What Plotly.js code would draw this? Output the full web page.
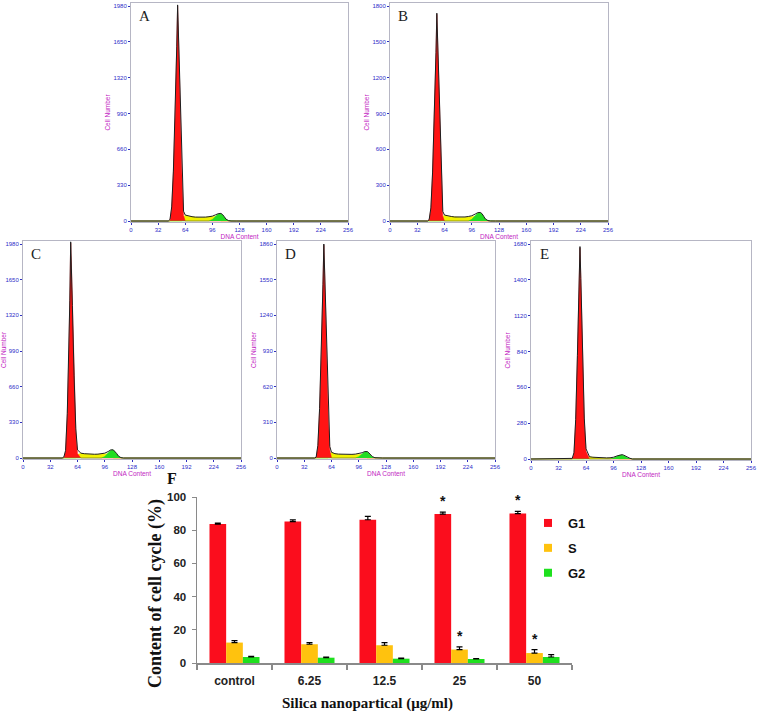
<!DOCTYPE html>
<html><head><meta charset="utf-8">
<script src="https://cdn.plot.ly/plotly-3.0.1.min.js"></script>
<style>html,body{margin:0;padding:0;background:#fff}#chart{width:760px;height:716px}</style>
</head><body><div id="chart"></div>
<script>
// ---------- Flow cytometry histograms (A-E) ----------
const dnaChannel = [0,40,44,46,48,50,52,54,55,56,57,58,60,62,64,68,72,76,80,84,88,92,96,100,103,106,108,110,112,115,118,124,256];
const dnaTicks = [0,32,64,96,128,160,192,224,256];

const aTotal = [0,0,0,15,130,460,960,1610,1990,1710,1360,1010,470,90,55,45,40,36,34,34,36,40,45,58,68,70,60,40,18,4,0,0,0];
const aG1    = [0,0,0,0,120,450,950,1600,1980,1700,1350,1000,450,50,0,0,0,0,0,0,0,0,0,0,0,0,0,0,0,0,0,0,0];
const aS     = [0,0,0,0,0,0,0,0,0,0,0,0,0,45,52,43,38,34,32,32,34,36,42,45,30,0,0,0,0,0,0,0,0];
const aG2    = [0,0,0,0,0,0,0,0,0,0,0,0,0,0,0,0,0,0,0,0,0,0,15,50,66,68,58,38,16,2,0,0,0];
const aYTicks = [0,330,660,990,1320,1650,1980];

const bTotal = [0,0,0,12,110,410,860,1410,1740,1510,1190,880,395,80,50,42,38,34,32,32,34,38,44,58,70,72,62,40,17,4,0,0,0];
const bG1    = [0,0,0,8,100,400,850,1400,1730,1500,1180,870,380,40,0,0,0,0,0,0,0,0,0,0,0,0,0,0,0,0,0,0,0];
const bS     = [0,0,0,0,0,0,0,0,0,0,0,0,0,40,48,40,36,32,30,30,32,36,42,40,28,0,0,0,0,0,0,0,0];
const bG2    = [0,0,0,0,0,0,0,0,0,0,0,0,0,0,0,0,0,0,0,0,0,0,14,50,68,70,60,38,15,2,0,0,0];
const bYTicks = [0,300,600,900,1200,1500,1800];

const cTotal = [0,0,0,0,10,70,410,1010,1460,2000,1760,1410,760,270,75,45,40,37,35,35,36,40,45,60,75,76,62,42,18,4,0,0,0];
const cG1    = [0,0,0,0,0,60,400,1000,1450,1990,1750,1400,750,250,40,0,0,0,0,0,0,0,0,0,0,0,0,0,0,0,0,0,0];
const cS     = [0,0,0,0,0,0,0,0,0,0,0,0,0,0,35,43,38,35,33,33,34,38,42,40,28,0,0,0,0,0,0,0,0];
const cG2    = [0,0,0,0,0,0,0,0,0,0,0,0,0,0,0,0,0,0,0,0,0,0,14,52,73,74,60,40,16,2,0,0,0];
const cYTicks = [0,330,660,990,1320,1650,1980];

const dTotal = [0,0,0,8,110,430,910,1510,1860,1610,1260,960,440,100,50,38,34,32,30,30,32,34,38,46,56,56,44,28,12,3,0,0,0];
const dG1    = [0,0,0,0,100,420,900,1500,1850,1600,1250,950,420,70,0,0,0,0,0,0,0,0,0,0,0,0,0,0,0,0,0,0,0];
const dS     = [0,0,0,0,0,0,0,0,0,0,0,0,0,30,48,36,32,30,28,28,30,32,35,32,22,0,0,0,0,0,0,0,0];
const dG2    = [0,0,0,0,0,0,0,0,0,0,0,0,0,0,0,0,0,0,0,0,0,0,12,40,54,54,42,26,10,1,0,0,0];
const dYTicks = [0,310,620,930,1240,1550,1860];

const eTotal = [0,0,0,0,5,50,310,810,1160,1460,1660,1410,810,320,80,18,14,12,10,9,9,10,14,24,32,34,30,22,12,6,0,0,0];
const eG1    = [0,0,0,0,0,40,300,800,1150,1450,1650,1400,800,300,60,0,0,0,0,0,0,0,0,0,0,0,0,0,0,0,0,0,0];
const eS     = [0,0,0,0,0,0,0,0,0,0,0,0,0,0,20,16,12,10,8,7,7,8,8,6,0,0,0,0,0,0,0,0,0];
const eG2    = [0,0,0,0,0,0,0,0,0,0,0,0,0,0,0,0,0,0,0,0,0,0,8,22,30,32,28,20,10,4,0,0,0];
const eYTicks = [0,280,560,840,1120,1400,1680];

const panelLetters = ['A','B','C','D','E'];

// ---------- Bar chart (F) ----------
const doses = ['control','6.25','12.5','25','50'];
const phaseNames = ['G1','S','G2'];
const g1Pct = [83.7, 85.2, 86.3, 89.7, 90.0];
const g1Err = [0.6, 1.0, 2.0, 1.2, 1.4];
const sPct  = [12.3, 11.3, 10.7, 8.1, 6.0];
const sErr  = [1.2, 1.0, 1.6, 1.6, 2.1];
const g2Pct = [3.6, 3.2, 2.6, 2.4, 3.6];
const g2Err = [0.4, 0.3, 0.3, 0.2, 1.4];
const g1Sig = ['', '', '', '*', '*'];
const sSig  = ['', '', '', '*', '*'];

// ---------- layout helpers ----------
const W = 760, H = 716;
const px2x = (a,b) => [a/W, b/W];
const px2y = (top,bottom) => [1-bottom/H, 1-top/H];

const panels = [
  {tot:aTotal,g1:aG1,s:aS,g2:aG2,yt:aYTicks,xd:px2x(131,348),yd:px2y(3,222)},
  {tot:bTotal,g1:bG1,s:bS,g2:bG2,yt:bYTicks,xd:px2x(390,608),yd:px2y(3,222)},
  {tot:cTotal,g1:cG1,s:cS,g2:cG2,yt:cYTicks,xd:px2x(23,241),yd:px2y(241,459)},
  {tot:dTotal,g1:dG1,s:dS,g2:dG2,yt:dYTicks,xd:px2x(277,495),yd:px2y(241,459)},
  {tot:eTotal,g1:eG1,s:eS,g2:eG2,yt:eYTicks,xd:px2x(531,751),yd:px2y(241,460)}
];

const histColors = {g1:'#ff1414', s:'#f2f200', g2:'#22dd22'};
const traces = [];
const layout = {
  width: W, height: H, margin:{l:0,r:0,t:0,b:0},
  paper_bgcolor:'#fff', plot_bgcolor:'#fff',
  showlegend:true, annotations:[]
};

panels.forEach((p,i) => {
  const n = i===0 ? '' : String(i+1);
  const xa = 'x'+n, ya = 'y'+n;
  const fillTrace = (vals,col) => ({
    type:'scatter', mode:'lines', x:dnaChannel, y:vals, xaxis:xa, yaxis:ya,
    fill:'tozeroy', fillcolor:col, line:{color:col,width:0.5},
    hoverinfo:'skip', showlegend:false
  });
  traces.push(fillTrace(p.s, histColors.s));
  traces.push(fillTrace(p.g1, histColors.g1));
  traces.push(fillTrace(p.g2, histColors.g2));
  traces.push({type:'scatter', mode:'lines', x:dnaChannel, y:p.tot, xaxis:xa, yaxis:ya,
    line:{color:'#1e1e1e',width:1}, hoverinfo:'skip', showlegend:false});
  const ymax = p.yt[p.yt.length-1];
  layout['xaxis'+n] = {
    domain:p.xd, anchor:ya, range:[0,256], tickvals:dnaTicks, ticktext:dnaTicks.map(String),
    showgrid:false, zeroline:false, showline:true, mirror:true, linecolor:'#b6b6c4', linewidth:1,
    ticks:'outside', ticklen:2, tickcolor:'#3030c0',
    tickfont:{family:'Liberation Sans, Arial', size:6, color:'#2d2dc8'},
    title:{text:'DNA Content', font:{family:'Liberation Sans, Arial', size:6.5, color:'#c21cc2'}, standoff:0}
  };
  layout['yaxis'+n] = {
    domain:p.yd, anchor:xa, range:[-0.0045*ymax, 1.014*ymax], tickvals:p.yt, ticktext:p.yt.map(String),
    showgrid:false, zeroline:false, showline:true, mirror:true, linecolor:'#b6b6c4', linewidth:1,
    ticks:'outside', ticklen:2, tickcolor:'#3030c0',
    tickfont:{family:'Liberation Sans, Arial', size:6, color:'#2d2dc8'},
    title:{text:'Cell Number', font:{family:'Liberation Sans, Arial', size:6.5, color:'#c21cc2'}, standoff:2}
  };
  layout.annotations.push({
    xref:xa+' domain', yref:ya+' domain', x:0.06, y:0.94, xanchor:'center', yanchor:'middle',
    text:panelLetters[i], showarrow:false,
    font:{family:'Liberation Serif, Times New Roman', size:15, color:'#222'}
  });
});

// Bars
const barColors = ['#fb0d1d','#ffc20e','#1ee01e'];
const barVals = [g1Pct, sPct, g2Pct];
const barErrs = [g1Err, sErr, g2Err];
phaseNames.forEach((nm,k) => {
  traces.push({
    type:'bar', name:nm, x:doses, y:barVals[k], xaxis:'x6', yaxis:'y6',
    marker:{color:barColors[k]}, showlegend:false,
    error_y:{type:'data', symmetric:false, array:barErrs[k], arrayminus:barErrs[k].map(()=>0),
             color:'#000', thickness:1.2, width:3}
  });
});
// legend entries (small square keys like the original)
phaseNames.forEach((nm,k) => {
  traces.push({
    type:'scatter', mode:'markers', name:nm, x:[null], y:[null], xaxis:'x6', yaxis:'y6',
    marker:{symbol:'square', size:8, color:barColors[k]}, legendgroup:nm, hoverinfo:'skip'
  });
});

layout.barmode = 'group';
layout.bargap = 0.333;
layout.bargroupgap = 0;
layout.xaxis6 = {
  domain:px2x(197,572), anchor:'y6', type:'category', range:[-0.5,4.5],
  showgrid:false, zeroline:false, showline:true, linecolor:'#8a8a8a', linewidth:1.5,
  ticks:'outside', tickson:'boundaries', ticklen:5, tickcolor:'#8a8a8a', tickwidth:1.2,
  ticklabelstandoff:6,
  tickfont:{family:'Liberation Sans, Arial', size:12, color:'#222', weight:'bold'}
};
layout.yaxis6 = {
  domain:px2y(497,663), anchor:'x6', range:[0,100], tickvals:[0,20,40,60,80,100],
  showgrid:false, zeroline:false, showline:true, linecolor:'#8a8a8a', linewidth:1.5,
  ticks:'outside', ticklen:4, tickcolor:'#8a8a8a', ticklabelstandoff:3,
  tickfont:{family:'Liberation Sans, Arial', size:11.5, color:'#222', weight:'bold'}
};
layout.legend = {
  x:528/W, y:1-508/H, xanchor:'left', yanchor:'top', bgcolor:'rgba(0,0,0,0)',
  tracegroupgap:5, itemwidth:30,
  font:{family:'Liberation Sans, Arial', size:13, color:'#111', weight:'bold'}
};
// significance asterisks (placed above the error-bar caps)
doses.forEach((d,i) => {
  if (g1Sig[i]) layout.annotations.push({xref:'x6', yref:'y6', x:i, y:g1Pct[i]+g1Err[i], xshift:-16.5, yshift:1,
    yanchor:'bottom', text:g1Sig[i], showarrow:false, font:{family:'Liberation Sans, Arial', size:14, color:'#111', weight:'bold'}});
  if (sSig[i]) layout.annotations.push({xref:'x6', yref:'y6', x:i, y:sPct[i]+sErr[i], xshift:0, yshift:1,
    yanchor:'bottom', text:sSig[i], showarrow:false, font:{family:'Liberation Sans, Arial', size:14, color:'#111', weight:'bold'}});
});
layout.annotations.push({xref:'paper', yref:'paper', x:155/W, y:1-594/H, xanchor:'center', yanchor:'middle',
  textangle:-90, text:'Content of cell cycle (%)', showarrow:false,
  font:{family:'Liberation Serif, Times New Roman', size:18, color:'#111', weight:'bold'}});
layout.annotations.push({xref:'paper', yref:'paper', x:367/W, y:1-703/H, xanchor:'center', yanchor:'middle',
  text:'Silica nanopartical (μg/ml)', showarrow:false,
  font:{family:'Liberation Serif, Times New Roman', size:15, color:'#111', weight:'bold'}});
layout.annotations.push({xref:'paper', yref:'paper', x:172/W, y:1-479/H, xanchor:'center', yanchor:'middle',
  text:'F', showarrow:false,
  font:{family:'Liberation Serif, Times New Roman', size:16, color:'#111', weight:'bold'}});

Plotly.newPlot('chart', traces, layout, {displayModeBar:false, staticPlot:true});
</script></body></html>
